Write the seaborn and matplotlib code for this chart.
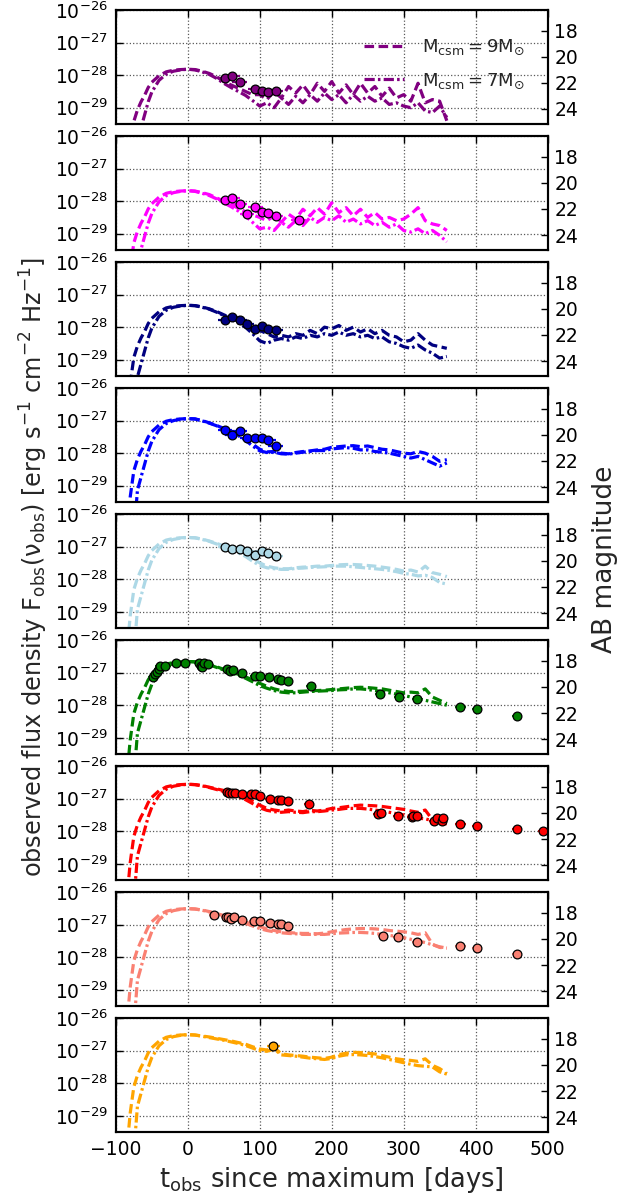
import numpy as np
import matplotlib
matplotlib.use("Agg")
import matplotlib.pyplot as plt
from matplotlib.ticker import FixedLocator, NullLocator, LogFormatterSciNotation
import seaborn as sns

# ---------------------------------------------------------------------------
# Model light curves: log10 flux density on a common time grid (days since max)
# ---------------------------------------------------------------------------
T_MODEL = [-90, -85, -80, -75, -70, -65, -60, -55, -50, -40, -30, -20, -10, 0,
           10, 20, 30, 40, 50, 60, 70, 80, 90, 100, 110, 120, 130, 140, 150,
           160, 170, 180, 190, 200, 210, 220, 230, 240, 250, 260, 270, 280,
           290, 300, 310, 320, 330, 340, 350, 360]

PURPLE_9 = [-32.82, -31.42, -30.22, -29.42, -29.07, -28.82, -28.62, -28.38, -28.22, -28.02, -27.90, -27.85, -27.83, -27.82,
            -27.83, -27.88, -27.95, -28.05, -28.20, -28.30, -28.40, -28.50, -28.60, -28.60, -28.75, -28.50, -28.70, -28.35,
            -28.55, -28.30, -28.60, -28.25, -28.50, -28.20, -28.55, -28.30, -28.60, -28.25, -28.55, -28.35, -28.65, -28.40,
            -28.70, -28.60, -28.80, -28.25, -28.85, -28.75, -28.80, -29.40]
PURPLE_7 = [-35.82, -34.32, -32.82, -31.42, -30.02, -29.62, -29.22, -28.82, -28.52, -28.16, -27.97, -27.88, -27.84, -27.82,
            -27.84, -27.90, -27.98, -28.10, -28.25, -28.38, -28.50, -28.62, -28.78, -28.95, -28.85, -29.00, -28.70, -28.90,
            -28.65, -28.85, -28.60, -28.80, -28.55, -28.75, -28.60, -28.85, -28.60, -28.80, -28.65, -28.80, -28.70, -28.90,
            -28.85, -28.95, -29.00, -28.85, -29.10, -29.15, -28.95, -29.30]

MAGENTA_9 = [-32.68, -31.28, -30.08, -29.28, -28.93, -28.68, -28.48, -28.24, -28.08, -27.88, -27.76, -27.71, -27.69, -27.68,
             -27.69, -27.74, -27.80, -27.90, -28.00, -28.10, -28.22, -28.32, -28.42, -28.50, -28.60, -28.45, -28.65, -28.40,
             -28.55, -28.25, -28.45, -28.20, -28.40, -28.05, -28.35, -28.20, -28.45, -28.25, -28.50, -28.35, -28.55, -28.50,
             -28.60, -28.55, -28.40, -28.20, -28.60, -28.70, -28.75, -28.90]
MAGENTA_7 = [-35.68, -34.18, -32.68, -31.28, -29.88, -29.48, -29.08, -28.68, -28.38, -28.02, -27.83, -27.74, -27.70, -27.68,
             -27.70, -27.76, -27.83, -27.93, -28.05, -28.17, -28.30, -28.45, -28.65, -28.85, -28.80, -28.90, -28.65, -28.80,
             -28.60, -28.75, -28.50, -28.65, -28.50, -28.60, -28.45, -28.65, -28.55, -28.70, -28.60, -28.75, -28.65, -28.80,
             -28.70, -28.90, -28.95, -28.85, -29.00, -28.90, -29.05, -29.25]

NAVY_9 = [-32.33, -30.93, -29.73, -28.93, -28.58, -28.33, -28.13, -27.89, -27.73, -27.53, -27.41, -27.36, -27.34, -27.33,
          -27.34, -27.38, -27.44, -27.52, -27.62, -27.72, -27.82, -27.92, -28.02, -28.10, -28.20, -28.30, -28.25, -28.30,
          -28.20, -28.25, -28.10, -28.20, -28.00, -28.05, -27.95, -28.10, -28.00, -28.15, -28.05, -28.20, -28.10, -28.25,
          -28.30, -28.45, -28.40, -28.20, -28.40, -28.55, -28.60, -28.65]
NAVY_7 = [-35.33, -33.83, -32.33, -30.93, -29.53, -29.13, -28.73, -28.33, -28.03, -27.67, -27.48, -27.39, -27.35, -27.33,
          -27.34, -27.39, -27.45, -27.54, -27.64, -27.75, -27.87, -28.00, -28.20, -28.42, -28.50, -28.40, -28.35, -28.40,
          -28.30, -28.35, -28.25, -28.30, -28.20, -28.25, -28.15, -28.25, -28.20, -28.30, -28.25, -28.35, -28.30, -28.45,
          -28.50, -28.60, -28.65, -28.55, -28.70, -28.80, -28.95, -28.90]

BLUE_9 = [-31.94, -30.54, -29.34, -28.54, -28.19, -27.94, -27.74, -27.50, -27.34, -27.14, -27.02, -26.97, -26.95, -26.94,
          -26.95, -27.00, -27.07, -27.15, -27.24, -27.33, -27.42, -27.55, -27.72, -27.88, -27.96, -27.95, -28.00, -28.02,
          -27.98, -27.95, -27.93, -27.90, -27.88, -27.82, -27.80, -27.78, -27.77, -27.80, -27.78, -27.83, -27.88, -27.90,
          -27.95, -28.00, -28.02, -27.95, -28.00, -28.10, -28.25, -28.20]
BLUE_7 = [-34.94, -33.44, -31.94, -30.54, -29.14, -28.74, -28.34, -27.94, -27.64, -27.28, -27.09, -27.00, -26.96, -26.94,
          -26.95, -27.01, -27.08, -27.16, -27.26, -27.36, -27.46, -27.60, -27.78, -27.93, -27.98, -27.97, -28.02, -28.03,
          -28.00, -27.97, -27.95, -27.92, -27.92, -27.87, -27.85, -27.83, -27.85, -27.90, -27.90, -27.95, -27.97, -28.00,
          -28.05, -28.10, -28.15, -28.10, -28.20, -28.30, -28.40, -28.30]

LIGHTBLUE_9 = [-31.72, -30.32, -29.12, -28.32, -27.97, -27.72, -27.52, -27.28, -27.12, -26.92, -26.80, -26.75, -26.73, -26.72,
               -26.73, -26.77, -26.83, -26.90, -26.98, -27.06, -27.15, -27.25, -27.38, -27.50, -27.60, -27.65, -27.68, -27.68,
               -27.65, -27.63, -27.62, -27.60, -27.60, -27.58, -27.56, -27.55, -27.55, -27.56, -27.58, -27.60, -27.63, -27.66,
               -27.70, -27.75, -27.72, -27.78, -27.60, -27.80, -27.85, -27.92]
LIGHTBLUE_7 = [-34.72, -33.22, -31.72, -30.32, -28.92, -28.52, -28.12, -27.72, -27.42, -27.06, -26.87, -26.78, -26.74, -26.72,
               -26.73, -26.78, -26.84, -26.92, -27.00, -27.09, -27.19, -27.30, -27.45, -27.58, -27.65, -27.68, -27.70, -27.70,
               -27.67, -27.66, -27.64, -27.63, -27.62, -27.60, -27.60, -27.60, -27.62, -27.64, -27.66, -27.68, -27.70, -27.73,
               -27.77, -27.82, -27.85, -27.90, -27.88, -27.95, -28.10, -28.15]

GREEN_9 = [-31.66, -30.26, -29.06, -28.26, -27.91, -27.66, -27.46, -27.22, -27.06, -26.86, -26.74, -26.69, -26.67, -26.66,
           -26.67, -26.70, -26.75, -26.82, -26.90, -26.98, -27.05, -27.13, -27.22, -27.33, -27.42, -27.50, -27.55, -27.58,
           -27.58, -27.57, -27.56, -27.55, -27.54, -27.52, -27.50, -27.48, -27.46, -27.45, -27.46, -27.48, -27.50, -27.54,
           -27.58, -27.62, -27.60, -27.62, -27.50, -27.75, -27.85, -27.95]
GREEN_7 = [-34.66, -33.16, -31.66, -30.26, -28.86, -28.46, -28.06, -27.66, -27.36, -27.00, -26.81, -26.72, -26.68, -26.66,
           -26.67, -26.71, -26.76, -26.84, -26.92, -27.00, -27.08, -27.17, -27.28, -27.40, -27.48, -27.55, -27.60, -27.62,
           -27.62, -27.60, -27.58, -27.57, -27.56, -27.55, -27.53, -27.52, -27.50, -27.50, -27.52, -27.55, -27.58, -27.62,
           -27.66, -27.70, -27.75, -27.80, -27.85, -27.90, -27.95, -28.00]

RED_9 = [-31.56, -30.16, -28.96, -28.16, -27.81, -27.56, -27.36, -27.12, -26.96, -26.76, -26.64, -26.59, -26.57, -26.56,
         -26.57, -26.60, -26.65, -26.70, -26.75, -26.83, -26.90, -26.98, -27.08, -27.20, -27.30, -27.35, -27.38, -27.35,
         -27.38, -27.40, -27.36, -27.38, -27.35, -27.30, -27.28, -27.25, -27.22, -27.20, -27.21, -27.22, -27.24, -27.27,
         -27.30, -27.33, -27.38, -27.42, -27.35, -27.65, -27.70, -27.75]
RED_7 = [-34.56, -33.06, -31.56, -30.16, -28.76, -28.36, -27.96, -27.56, -27.26, -26.90, -26.71, -26.62, -26.58, -26.56,
         -26.57, -26.61, -26.66, -26.72, -26.78, -26.86, -26.94, -27.03, -27.15, -27.28, -27.36, -27.40, -27.42, -27.40,
         -27.42, -27.43, -27.40, -27.40, -27.38, -27.35, -27.33, -27.30, -27.30, -27.30, -27.32, -27.35, -27.38, -27.42,
         -27.46, -27.50, -27.55, -27.60, -27.62, -27.68, -27.72, -27.78]

SALMON_9 = [-31.51, -30.11, -28.91, -28.11, -27.76, -27.51, -27.31, -27.07, -26.91, -26.71, -26.59, -26.54, -26.52, -26.51,
            -26.52, -26.55, -26.60, -26.66, -26.72, -26.78, -26.85, -26.92, -26.99, -27.06, -27.13, -27.18, -27.22, -27.24,
            -27.26, -27.27, -27.27, -27.28, -27.26, -27.22, -27.18, -27.15, -27.13, -27.12, -27.12, -27.13, -27.15, -27.18,
            -27.20, -27.22, -27.25, -27.30, -27.25, -27.60, -27.70, -27.72]
SALMON_7 = [-34.51, -33.01, -31.51, -30.11, -28.71, -28.31, -27.91, -27.51, -27.21, -26.85, -26.66, -26.57, -26.53, -26.51,
            -26.52, -26.56, -26.61, -26.67, -26.74, -26.81, -26.88, -26.96, -27.04, -27.12, -27.18, -27.22, -27.25, -27.27,
            -27.28, -27.30, -27.30, -27.30, -27.30, -27.28, -27.26, -27.25, -27.24, -27.24, -27.25, -27.27, -27.30, -27.33,
            -27.36, -27.40, -27.45, -27.50, -27.55, -27.62, -27.68, -27.72]

ORANGE_9 = [-31.51, -30.11, -28.91, -28.11, -27.76, -27.51, -27.31, -27.07, -26.91, -26.71, -26.59, -26.54, -26.52, -26.51,
            -26.52, -26.55, -26.58, -26.62, -26.66, -26.70, -26.75, -26.80, -26.88, -26.95, -26.98, -26.90, -27.10, -27.13,
            -27.15, -27.17, -27.20, -27.22, -27.24, -27.20, -27.12, -27.08, -27.05, -27.06, -27.08, -27.10, -27.15, -27.20,
            -27.25, -27.28, -27.30, -27.33, -27.25, -27.45, -27.55, -27.70]
ORANGE_7 = [-34.51, -33.01, -31.51, -30.11, -28.71, -28.31, -27.91, -27.51, -27.21, -26.85, -26.66, -26.57, -26.53, -26.51,
            -26.52, -26.56, -26.60, -26.64, -26.68, -26.73, -26.78, -26.84, -26.92, -27.00, -27.02, -26.95, -27.13, -27.15,
            -27.17, -27.20, -27.23, -27.25, -27.27, -27.24, -27.17, -27.13, -27.12, -27.13, -27.15, -27.18, -27.22, -27.27,
            -27.32, -27.37, -27.42, -27.46, -27.48, -27.50, -27.65, -27.72]

# ---------------------------------------------------------------------------
# Observed photometry: epochs (days since max) and log10 flux density
# ---------------------------------------------------------------------------
UV_T = [52, 62, 72, 82, 94, 103, 112, 122]

PURPLE_OBS_T = [52, 62, 72, 94, 103, 112, 122]
PURPLE_OBS = [-28.08, -28.04, -28.20, -28.44, -28.48, -28.52, -28.48]

MAGENTA_OBS_T = [52, 62, 72, 82, 94, 103, 112, 122, 154]
MAGENTA_OBS = [-27.96, -27.89, -28.09, -28.39, -28.17, -28.34, -28.35, -28.46, -28.58]

NAVY_OBS_T = UV_T
NAVY_OBS = [-27.77, -27.69, -27.77, -27.89, -28.05, -27.96, -28.05, -28.08]

BLUE_OBS_T = UV_T
BLUE_OBS = [-27.28, -27.43, -27.33, -27.52, -27.55, -27.55, -27.60, -27.79]

LIGHTBLUE_OBS_T = UV_T
LIGHTBLUE_OBS = [-27.00, -27.07, -27.07, -27.13, -27.26, -27.15, -27.20, -27.28]

GREEN_OBS_T = [-48, -45, -43, -40, -39, -31, -16, -4, 16, 18, 20, 22, 28, 55, 59, 63, 75,
               93, 100, 113, 125, 129, 139, 171, 267, 293, 319, 379, 402, 458]
GREEN_OBS = [-27.12, -27.04, -26.97, -26.90, -26.79, -26.79, -26.72, -26.69, -26.71, -26.79,
             -26.84, -26.71, -26.74, -26.90, -26.95, -26.92, -27.02, -27.09, -27.10, -27.15,
             -27.20, -27.23, -27.26, -27.41, -27.67, -27.74, -27.82, -28.07, -28.13, -28.32]

RED_OBS_T = [54, 57, 61, 65, 75, 88, 93, 100, 114, 125, 129, 139, 169, 265, 269, 292, 311,
             313, 319, 342, 346, 353, 355, 379, 402, 458, 494]
RED_OBS = [-26.81, -26.84, -26.84, -26.84, -26.87, -26.87, -26.87, -26.92, -27.00, -27.05,
           -27.04, -27.08, -27.17, -27.47, -27.45, -27.52, -27.57, -27.53, -27.53, -27.69,
           -27.61, -27.69, -27.61, -27.78, -27.83, -27.94, -27.98]

SALMON_OBS_T = [37, 53, 56, 60, 64, 75, 92, 100, 114, 125, 129, 139, 271, 292, 319, 379, 402, 458]
SALMON_OBS = [-26.69, -26.76, -26.78, -26.82, -26.78, -26.85, -26.89, -26.90, -26.95, -26.99,
              -26.99, -27.04, -27.36, -27.38, -27.53, -27.67, -27.72, -27.90]

ORANGE_OBS_T = [119]
ORANGE_OBS = [-26.87]

BAND_COLORS = ["purple", "magenta", "navy", "blue", "lightblue", "green", "red", "salmon", "orange"]
MODELS_9 = [PURPLE_9, MAGENTA_9, NAVY_9, BLUE_9, LIGHTBLUE_9, GREEN_9, RED_9, SALMON_9, ORANGE_9]
MODELS_7 = [PURPLE_7, MAGENTA_7, NAVY_7, BLUE_7, LIGHTBLUE_7, GREEN_7, RED_7, SALMON_7, ORANGE_7]
OBS_T = [PURPLE_OBS_T, MAGENTA_OBS_T, NAVY_OBS_T, BLUE_OBS_T, LIGHTBLUE_OBS_T,
         GREEN_OBS_T, RED_OBS_T, SALMON_OBS_T, ORANGE_OBS_T]
OBS_F = [PURPLE_OBS, MAGENTA_OBS, NAVY_OBS, BLUE_OBS, LIGHTBLUE_OBS,
         GREEN_OBS, RED_OBS, SALMON_OBS, ORANGE_OBS]
OBS_XERR = [10, 10, 10, 10, 10, 7, 7, 7, 9]

X_TICKS = [-100, 0, 100, 200, 300, 400, 500]
FLUX_TICKS = [1e-29, 1e-28, 1e-27, 1e-26]
MAG_TICKS = [18, 20, 22, 24]
LEGEND_LABELS = [r"$\mathrm{M_{csm}=9M_{\odot}}$", r"$\mathrm{M_{csm}=7M_{\odot}}$"]

# ---------------------------------------------------------------------------
sns.set_theme(style="white", rc={
    "xtick.direction": "in", "ytick.direction": "in",
    "xtick.major.size": 5, "ytick.major.size": 5,
    "xtick.major.width": 1.0, "ytick.major.width": 1.0,
    "axes.edgecolor": "black", "axes.linewidth": 1.5,
    "grid.color": "0.35", "grid.linestyle": ":", "grid.linewidth": 0.9,
    "mathtext.fontset": "dejavusans",
    "xtick.color": "black", "ytick.color": "black",
})
plt.rcParams["font.family"] = ["DejaVu Sans"]

FLUX_LO, FLUX_HI = 10 ** -29.5, 1e-26


def ab_mag(f):
    return -2.5 * np.log10(f) - 48.6


fig, axes = plt.subplots(9, 1, figsize=(6.33, 11.98), dpi=100, sharex=True)
fig.subplots_adjust(left=0.183, right=0.865, top=0.9917, bottom=0.055, hspace=0.105)

t_model = np.array(T_MODEL, dtype=float)
dash_9 = (0, (3.0, 1.4))
dash_7 = (0, (3.2, 1.0, 0.8, 1.0))

for i, ax in enumerate(axes):
    color = BAND_COLORS[i]
    ax.set_yscale("log")

    sns.lineplot(x=t_model, y=10 ** np.array(MODELS_9[i]), ax=ax, color=color,
                 linewidth=2.3, linestyle=dash_9, label=LEGEND_LABELS[0], zorder=2)
    sns.lineplot(x=t_model, y=10 ** np.array(MODELS_7[i]), ax=ax, color=color,
                 linewidth=2.3, linestyle=dash_7, label=LEGEND_LABELS[1], zorder=2)

    tobs = np.array(OBS_T[i], dtype=float)
    fobs = 10 ** np.array(OBS_F[i])
    yerr = [fobs * (1 - 10 ** -0.05), fobs * (10 ** 0.05 - 1)]
    ax.errorbar(tobs, fobs, xerr=OBS_XERR[i], yerr=yerr, fmt="none",
                ecolor=color, elinewidth=1.6, capsize=0, zorder=3)
    sns.scatterplot(x=tobs, y=fobs, ax=ax, color=color, edgecolor="black",
                    linewidth=0.9, s=40, zorder=4, legend=False)

    ax.set_xlim(-100, 500)
    ax.set_ylim(FLUX_LO, FLUX_HI)
    ax.yaxis.set_major_locator(FixedLocator(FLUX_TICKS))
    ax.yaxis.set_major_formatter(LogFormatterSciNotation())
    ax.yaxis.set_minor_locator(NullLocator())
    ax.set_xticks(X_TICKS)
    ax.xaxis.set_minor_locator(NullLocator())
    ax.grid(True, which="major")
    ax.tick_params(axis="both", which="major", labelsize=13.5, top=True, right=False,
                   pad=6)
    ax.tick_params(axis="x", labelbottom=(i == len(axes) - 1))
    ax.set_ylabel("")
    ax.set_xlabel("")

    twin = ax.twinx()
    twin.set_ylim(ab_mag(FLUX_LO), ab_mag(FLUX_HI))
    twin.set_yticks(MAG_TICKS)
    twin.yaxis.set_minor_locator(NullLocator())
    twin.tick_params(axis="y", direction="in", labelsize=13.5, pad=5, length=5)
    twin.grid(False)

    if i == 0:
        ax.legend(loc="upper right", bbox_to_anchor=(0.985, 0.90), frameon=False,
                  fontsize=13, handlelength=2.2, handletextpad=1.0, labelspacing=0.8)
    else:
        leg = ax.get_legend()
        if leg is not None:
            leg.remove()

axes[-1].set_xlabel(r"$\mathrm{t_{obs}}$ since maximum [days]", fontsize=18.5, labelpad=4)

fig.text(0.054, 0.527,
         r"observed flux density $\mathrm{F_{obs}(\nu_{obs})}$ "
         r"[erg s$^{-1}$ cm$^{-2}$ Hz$^{-1}$]",
         rotation=90, ha="center", va="center", fontsize=17.3)
fig.text(0.955, 0.533, "AB magnitude", rotation=90, ha="center", va="center", fontsize=19)

fig.savefig("out.png", dpi=100)
